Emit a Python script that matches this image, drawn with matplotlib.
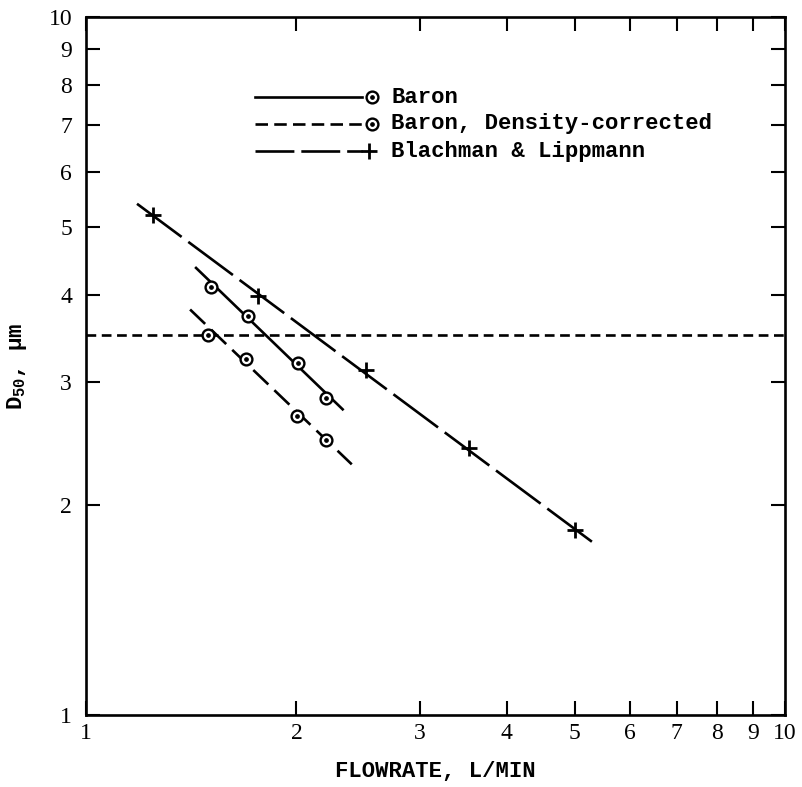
import matplotlib
matplotlib.use('Agg')
import matplotlib.pyplot as plt
from matplotlib.ticker import FixedLocator, NullLocator

# (log-log axes)
baron_x = [1.508, 1.707, 2.009, 2.203]
baron_y = [4.11, 3.735, 3.19, 2.85]
baron_fit_x = [1.437, 2.329]
baron_fit_y = [4.37, 2.741]

dens_x = [1.493, 1.694, 2.004, 2.203]
dens_y = [3.50, 3.24, 2.68, 2.476]
dens_fit_x = [1.409, 2.40]
dens_fit_y = [3.81, 2.286]

bl_x = [1.247, 1.76, 2.515, 3.53, 5.01]
bl_y = [5.21, 3.99, 3.12, 2.41, 1.84]
bl_fit_x = [1.183, 5.40]
bl_fit_y = [5.40, 1.745]

d50_ref = 3.5

ticks = [1, 2, 3, 4, 5, 6, 7, 8, 9, 10]
tick_labels = ['1', '2', '3', '4', '5', '6', '7', '8', '9', '10']

legend_labels = ['Baron', 'Baron, Density-corrected', 'Blachman & Lippmann']

plt.rcParams['lines.scale_dashes'] = False
plt.rcParams['mathtext.default'] = 'regular'
mono = 'Liberation Mono'
serif = 'Liberation Serif'

fig = plt.figure(figsize=(8.03, 7.87), dpi=100)
ax = fig.add_axes([0.1071, 0.0915, 0.8705, 0.8869])
ax.set_xscale('log')
ax.set_yscale('log')
ax.set_xlim(1, 10)
ax.set_ylim(1, 10)

lw = 1.9
circ = dict(marker='o', ms=8.5, mfc='white', mec='black', mew=1.7, ls='none', zorder=4)
dot = dict(marker='o', ms=2.4, color='black', ls='none', zorder=5)
plus = dict(marker='+', ms=11, mew=2.0, color='black', ls='none', zorder=4)

# fitted lines
ax.plot(baron_fit_x, baron_fit_y, color='black', lw=lw, ls='-')
ax.plot(dens_fit_x, dens_fit_y, color='black', lw=lw, ls=(0, (15, 6)))
ax.plot(bl_fit_x, bl_fit_y, color='black', lw=lw, ls=(0, (40, 6)))
ax.axhline(d50_ref, color='black', lw=lw, ls=(0, (7, 4)))

# data points
ax.plot(baron_x, baron_y, **circ)
ax.plot(baron_x, baron_y, **dot)
ax.plot(dens_x, dens_y, **circ)
ax.plot(dens_x, dens_y, **dot)
ax.plot(bl_x, bl_y, **plus)

# hand drawn legend, line then symbol then text
tr = ax.transAxes
rows_y = [0.885, 0.847, 0.808]
styles = ['-', (0, (9, 4.5)), (0, (28, 5))]
for i in range(3):
    yy = rows_y[i]
    ax.plot([0.2418, 0.395], [yy, yy], transform=tr, color='black', lw=lw, ls=styles[i])
    if i < 2:
        ax.plot([0.409], [yy], transform=tr, **circ)
        ax.plot([0.409], [yy], transform=tr, **dot)
    else:
        ax.plot([0.405], [yy], transform=tr, **plus)
    ax.text(0.437, yy, legend_labels[i], transform=tr, family=mono, fontsize=16,
            fontweight='bold', va='center', ha='left')

ax.xaxis.set_major_locator(FixedLocator(ticks))
ax.yaxis.set_major_locator(FixedLocator(ticks))
ax.xaxis.set_minor_locator(NullLocator())
ax.yaxis.set_minor_locator(NullLocator())
ax.set_xticklabels(tick_labels, family=serif, fontsize=17)
ax.set_yticklabels(tick_labels, family=serif, fontsize=17)
ax.tick_params(which='major', direction='in', length=10, width=1.5,
               top=True, right=True, pad=6)
ax.tick_params(axis='y', pad=10)

for s in ax.spines.values():
    s.set_linewidth(1.9)

ax.set_xlabel('FLOWRATE, L/MIN', family=mono, fontsize=16, fontweight='bold', labelpad=12)
ax.set_ylabel('D$_{50}$, μm', family=mono, fontsize=16, fontweight='bold', labelpad=14)

fig.savefig('out.png', dpi=100)
